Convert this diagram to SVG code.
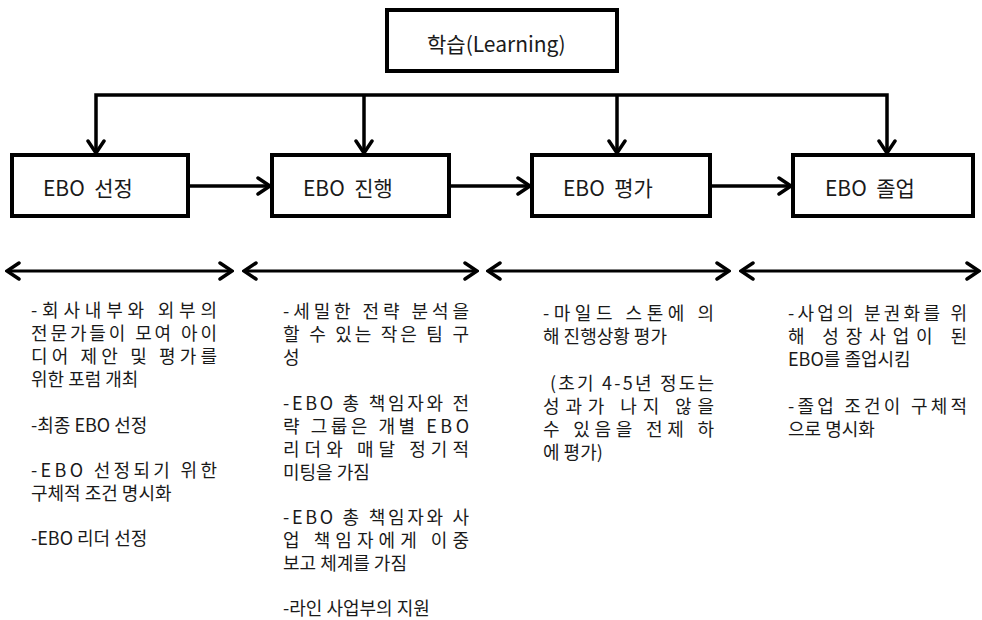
<svg xmlns="http://www.w3.org/2000/svg" width="982" height="620" viewBox="0 0 982 620">
<style>
text{font-family:"Noto Sans CJK KR","Malgun Gothic",sans-serif;fill:#1a1a1a}
.box{fill:#fff;stroke:#000;stroke-width:4}
.lbl{font-size:21px;white-space:pre}
.body{font-size:18px}
.con{stroke:#000;stroke-width:3.5;fill:none}
.dbl{stroke:#000;stroke-width:3;fill:none}
</style>
<defs>
<marker id="ah" viewBox="0 0 16 20" refX="14" refY="10" markerWidth="16" markerHeight="20" markerUnits="userSpaceOnUse" orient="auto-start-reverse">
<path d="M2,2 L14,10 L2,18" fill="none" stroke="#000" stroke-width="3.5" stroke-linecap="round" stroke-linejoin="miter"/>
</marker>
</defs>
<rect width="982" height="620" fill="#fff"/>
<g id="learning"><rect class="box" x="387" y="10" width="230" height="61"/><text class="lbl" x="427" y="52" font-size="22">학습(Learning)</text></g>
<g id="n1"><rect class="box" x="12" y="155" width="176" height="61"/><text class="lbl" x="43" y="196" xml:space="preserve">EBO  선정</text></g>
<g id="n2"><rect class="box" x="272" y="155" width="177" height="61"/><text class="lbl" x="303" y="196" xml:space="preserve">EBO  진행</text></g>
<g id="n3"><rect class="box" x="532" y="155" width="178" height="61"/><text class="lbl" x="563" y="196" xml:space="preserve">EBO  평가</text></g>
<g id="n4"><rect class="box" x="793" y="155" width="180" height="61"/><text class="lbl" x="825" y="196" xml:space="preserve">EBO  졸업</text></g>
<g id="connectors">
<polyline class="con" points="96,153 96,95 887,95 887,153" marker-start="url(#ah)" marker-end="url(#ah)"/>
<line class="con" x1="364" y1="95" x2="364" y2="153" marker-end="url(#ah)"/>
<line class="con" x1="617" y1="95" x2="617" y2="153" marker-end="url(#ah)"/>
<line class="con" x1="188" y1="186" x2="270" y2="186" marker-end="url(#ah)"/>
<line class="con" x1="449" y1="186" x2="530" y2="186" marker-end="url(#ah)"/>
<line class="con" x1="710" y1="186" x2="791" y2="186" marker-end="url(#ah)"/>
<line class="dbl" x1="7" y1="271" x2="232" y2="271" marker-start="url(#ah)" marker-end="url(#ah)"/>
<line class="dbl" x1="244" y1="271" x2="477" y2="271" marker-start="url(#ah)" marker-end="url(#ah)"/>
<line class="dbl" x1="488" y1="271" x2="729" y2="271" marker-start="url(#ah)" marker-end="url(#ah)"/>
<line class="dbl" x1="741" y1="271" x2="979" y2="271" marker-start="url(#ah)" marker-end="url(#ah)"/>
</g>
<g id="col1">
<text class="body"><tspan x="31" y="317" textLength="186" lengthAdjust="spacing">-회사내부와 외부의</tspan><tspan x="31" y="340" textLength="186" lengthAdjust="spacing">전문가들이 모여 아이</tspan><tspan x="31" y="363" textLength="186" lengthAdjust="spacing">디어 제안 및 평가를</tspan><tspan x="31" y="386">위한 포럼 개최</tspan></text>
<text class="body" x="31" y="432">-최종 EBO 선정</text>
<text class="body"><tspan x="31" y="477" textLength="186" lengthAdjust="spacing">-EBO 선정되기 위한</tspan><tspan x="31" y="500">구체적 조건 명시화</tspan></text>
<text class="body" x="31" y="545">-EBO 리더 선정</text>
</g>
<g id="col2">
<text class="body"><tspan x="283" y="318" textLength="186" lengthAdjust="spacing">-세밀한 전략 분석을</tspan><tspan x="283" y="341" textLength="186" lengthAdjust="spacing">할 수 있는 작은 팀 구</tspan><tspan x="283" y="364">성</tspan></text>
<text class="body"><tspan x="283" y="410" textLength="186" lengthAdjust="spacing">-EBO 총 책임자와 전</tspan><tspan x="283" y="433" textLength="186" lengthAdjust="spacing">략 그룹은 개별 EBO</tspan><tspan x="283" y="456" textLength="186" lengthAdjust="spacing">리더와 매달 정기적</tspan><tspan x="283" y="479">미팅을 가짐</tspan></text>
<text class="body"><tspan x="283" y="524" textLength="186" lengthAdjust="spacing">-EBO 총 책임자와 사</tspan><tspan x="283" y="547" textLength="186" lengthAdjust="spacing">업 책임자에게 이중</tspan><tspan x="283" y="570">보고 체계를 가짐</tspan></text>
<text class="body" x="283" y="615">-라인 사업부의 지원</text>
</g>
<g id="col3">
<text class="body"><tspan x="543" y="320" textLength="171" lengthAdjust="spacing">-마일드 스톤에 의</tspan><tspan x="543" y="343">해 진행상황 평가</tspan></text>
<text class="body"><tspan x="550" y="390" textLength="164" lengthAdjust="spacing">(초기 4-5년 정도는</tspan><tspan x="543" y="413" textLength="171" lengthAdjust="spacing">성과가 나지 않을</tspan><tspan x="543" y="436" textLength="171" lengthAdjust="spacing">수 있음을 전제 하</tspan><tspan x="543" y="459">에 평가)</tspan></text>
</g>
<g id="col4">
<text class="body"><tspan x="788" y="320" textLength="179" lengthAdjust="spacing">-사업의 분권화를 위</tspan><tspan x="788" y="343" textLength="179" lengthAdjust="spacing">해 성장사업이 된</tspan><tspan x="788" y="366">EBO를 졸업시킴</tspan></text>
<text class="body"><tspan x="788" y="413" textLength="179" lengthAdjust="spacing">-졸업 조건이 구체적</tspan><tspan x="788" y="436">으로 명시화</tspan></text>
</g>
</svg>
